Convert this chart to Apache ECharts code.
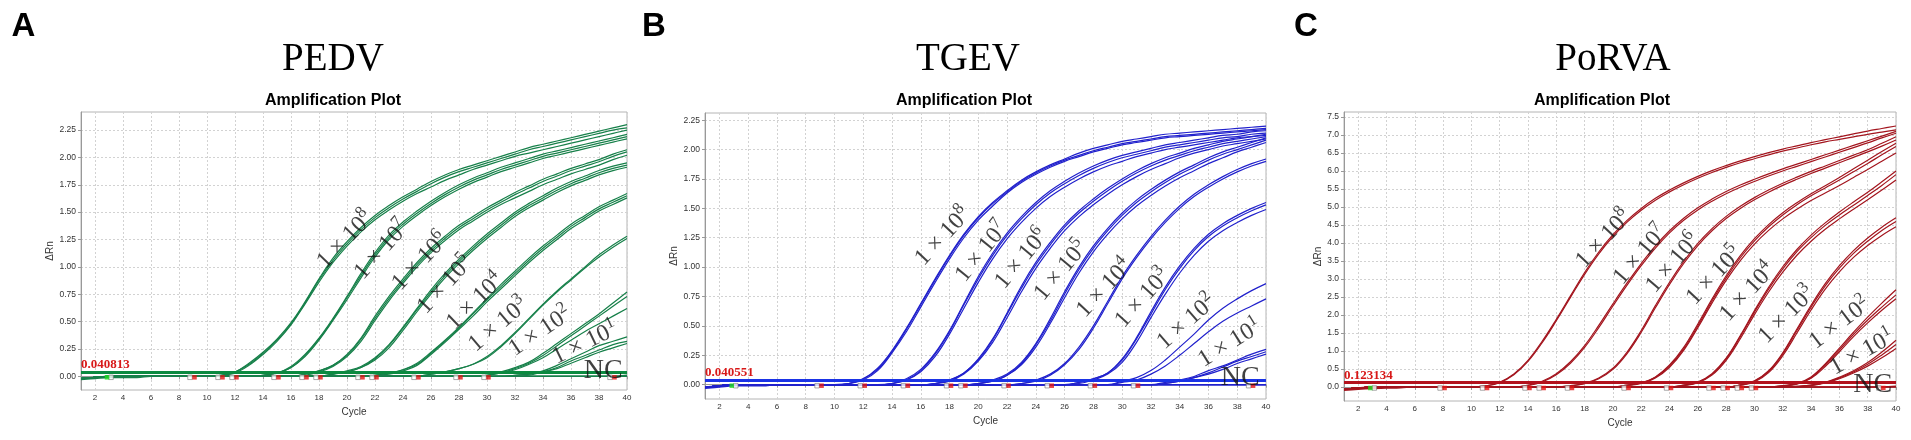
<!DOCTYPE html>
<html>
<head>
<meta charset="utf-8">
<script src="https://cdn.jsdelivr.net/npm/echarts@6/dist/echarts.min.js"></script>
<style>
  html, body { margin: 0; padding: 0; background: #fff; }
  #chart { width: 1911px; height: 440px; }
</style>
</head>
<body>
<div id="chart"></div>
<script>
// qPCR amplification plots, three targets
var CYCLES = [1,2,3,4,5,6,7,8,9,10,11,12,13,14,15,16,17,18,19,20,
              21,22,23,24,25,26,27,28,29,30,31,32,33,34,35,36,37,38,39,40];
var X_TICKS = [2,4,6,8,10,12,14,16,18,20,22,24,26,28,30,32,34,36,38,40];
var Y_TICKS_PEDV = [0,0.25,0.5,0.75,1,1.25,1.5,1.75,2,2.25];
var Y_TICKS_TGEV = [0,0.25,0.5,0.75,1,1.25,1.5,1.75,2,2.25];
var Y_TICKS_PORVA = [0,0.5,1,1.5,2,2.5,3,3.5,4,4.5,5,5.5,6,6.5,7,7.5];

// ---- PEDV (A) : dRn per cycle, one row = 10 cycles
var PEDV_1E8 = [
  [-0.02,-0.01,0,0,0,0,0,0,0,0, 0.01,0.04,0.12,0.22,0.34,0.49,0.68,0.89,1.08,1.23,
   1.36,1.47,1.56,1.64,1.71,1.78,1.84,1.89,1.93,1.97, 2.01,2.05,2.09,2.12,2.15,2.18,2.21,2.24,2.27,2.30],
  [-0.02,-0.01,0,0,0,0,0,0,0,0, 0.01,0.04,0.11,0.21,0.33,0.48,0.67,0.88,1.06,1.21,
   1.34,1.45,1.54,1.62,1.69,1.76,1.82,1.87,1.91,1.95, 1.99,2.03,2.07,2.10,2.13,2.16,2.19,2.22,2.25,2.27],
  [-0.02,-0.01,0,0,0,0,0,0,0,0, 0.01,0.03,0.10,0.20,0.32,0.47,0.66,0.86,1.04,1.19,
   1.32,1.43,1.52,1.60,1.67,1.73,1.79,1.84,1.89,1.93, 1.97,2.01,2.04,2.07,2.10,2.13,2.16,2.19,2.22,2.25]
];
var PEDV_1E7 = [
  [-0.02,-0.01,0,0,0,0,0,0,0,0, 0,0,0,0.01,0.03,0.09,0.20,0.35,0.53,0.73,
   0.94,1.13,1.29,1.41,1.51,1.60,1.68,1.75,1.81,1.86, 1.91,1.95,1.99,2.03,2.06,2.09,2.12,2.15,2.18,2.21],
  [-0.02,-0.01,0,0,0,0,0,0,0,0, 0,0,0,0.01,0.03,0.08,0.19,0.34,0.52,0.72,
   0.92,1.11,1.27,1.39,1.49,1.58,1.66,1.73,1.79,1.84, 1.89,1.93,1.97,2.01,2.04,2.07,2.10,2.13,2.16,2.19],
  [-0.02,-0.01,0,0,0,0,0,0,0,0, 0,0,0,0.01,0.03,0.08,0.18,0.33,0.51,0.70,
   0.90,1.09,1.25,1.37,1.47,1.56,1.64,1.71,1.77,1.82, 1.87,1.91,1.95,1.99,2.02,2.05,2.08,2.11,2.14,2.17]
];
var PEDV_1E6 = [
  [-0.02,-0.01,0,0,0,0,0,0,0,0, 0,0,0,0,0,0,0.02,0.05,0.10,0.20,
   0.35,0.55,0.73,0.89,1.04,1.17,1.28,1.38,1.46,1.54, 1.61,1.68,1.74,1.80,1.85,1.90,1.94,1.98,2.03,2.07],
  [-0.02,-0.01,0,0,0,0,0,0,0,0, 0,0,0,0,0,0,0.02,0.05,0.10,0.19,
   0.34,0.53,0.71,0.87,1.02,1.15,1.26,1.36,1.44,1.52, 1.59,1.66,1.72,1.78,1.83,1.88,1.92,1.96,2.01,2.05],
  [-0.02,-0.01,0,0,0,0,0,0,0,0, 0,0,0,0,0,0,0.01,0.04,0.09,0.18,
   0.32,0.51,0.69,0.85,1.00,1.13,1.24,1.34,1.42,1.50, 1.57,1.63,1.69,1.75,1.80,1.85,1.89,1.93,1.98,2.02]
];
var PEDV_1E5 = [
  [-0.02,-0.01,0,0,0,0,0,0,0,0, 0,0,0,0,0,0,0,0,0.02,0.05,
   0.09,0.17,0.29,0.45,0.62,0.79,0.94,1.07,1.19,1.30, 1.40,1.50,1.58,1.65,1.72,1.78,1.83,1.88,1.92,1.95],
  [-0.02,-0.01,0,0,0,0,0,0,0,0, 0,0,0,0,0,0,0,0,0.02,0.04,
   0.08,0.16,0.28,0.44,0.61,0.77,0.92,1.05,1.17,1.28, 1.38,1.48,1.56,1.63,1.70,1.76,1.81,1.86,1.90,1.93],
  [-0.02,-0.01,0,0,0,0,0,0,0,0, 0,0,0,0,0,0,0,0,0.02,0.04,
   0.08,0.15,0.26,0.42,0.59,0.75,0.90,1.03,1.15,1.26, 1.36,1.46,1.54,1.61,1.68,1.74,1.79,1.84,1.88,1.91]
];
var PEDV_1E4 = [
  [-0.02,-0.01,0,0,0,0,0,0,0,0, 0,0,0,0,0,0,0,0,0,0,
   0,0.01,0.03,0.06,0.12,0.22,0.33,0.45,0.58,0.71, 0.84,0.96,1.08,1.19,1.29,1.39,1.47,1.55,1.61,1.67],
  [-0.02,-0.01,0,0,0,0,0,0,0,0, 0,0,0,0,0,0,0,0,0,0,
   0,0.01,0.03,0.06,0.11,0.21,0.32,0.44,0.57,0.70, 0.82,0.94,1.06,1.17,1.27,1.37,1.45,1.53,1.59,1.65],
  [-0.02,-0.01,0,0,0,0,0,0,0,0, 0,0,0,0,0,0,0,0,0,0,
   0,0.01,0.02,0.05,0.10,0.20,0.31,0.43,0.55,0.68, 0.80,0.92,1.04,1.15,1.25,1.35,1.43,1.51,1.57,1.63]
];
var PEDV_1E3 = [
  [-0.02,-0.01,0,0,0,0,0,0,0,0, 0,0,0,0,0,0,0,0,0,0,
   0,0,0,0,0,0.02,0.04,0.07,0.11,0.18, 0.28,0.40,0.53,0.66,0.78,0.89,1.00,1.11,1.20,1.28],
  [-0.02,-0.01,0,0,0,0,0,0,0,0, 0,0,0,0,0,0,0,0,0,0,
   0,0,0,0,0,0.02,0.04,0.07,0.11,0.17, 0.27,0.39,0.52,0.65,0.77,0.88,0.99,1.09,1.18,1.26]
];
var PEDV_1E2 = [
  [-0.02,-0.01,0,0,0,0,0,0,0,0, 0,0,0,0,0,0,0,0,0,0,
   0,0,0,0,0,0,0,0,0,0.01, 0.04,0.08,0.13,0.21,0.30,0.39,0.48,0.57,0.67,0.77],
  [-0.02,-0.01,0,0,0,0,0,0,0,0, 0,0,0,0,0,0,0,0,0,0,
   0,0,0,0,0,0,0,0,0,0.01, 0.03,0.07,0.12,0.19,0.28,0.37,0.46,0.55,0.64,0.73],
  [-0.02,-0.01,0,0,0,0,0,0,0,0, 0,0,0,0,0,0,0,0,0,0,
   0,0,0,0,0,0,0,0,0,0.01, 0.03,0.06,0.11,0.17,0.25,0.33,0.41,0.48,0.55,0.62]
];
var PEDV_1E1 = [
  [-0.02,-0.01,0,0,0,0,0,0,0,0, 0,0,0,0,0,0,0,0,0,0,
   0,0,0,0,0,0,0,0,0,0, 0,0.01,0.02,0.05,0.10,0.16,0.22,0.28,0.32,0.36],
  [-0.02,-0.01,0,0,0,0,0,0,0,0, 0,0,0,0,0,0,0,0,0,0,
   0,0,0,0,0,0,0,0,0,0, 0,0.01,0.02,0.04,0.08,0.14,0.19,0.24,0.29,0.32],
  [-0.02,-0.01,0,0,0,0,0,0,0,0, 0,0,0,0,0,0,0,0,0,0,
   0,0,0,0,0,0,0,0,0,0, 0,0,0.01,0.04,0.07,0.12,0.17,0.22,0.26,0.30]
];
var PEDV_NC = [
  [-0.02,-0.01,0,0,0,0,0,0,0,0, 0,0,0,0,0,0,0,0,0,0,
   0,0,0,0,0,0,0,0,0,0, 0,0,0,0,0,0,0,0,0,0.01],
  [-0.03,-0.02,-0.01,-0.01,-0.01,0,0,0,0,0, 0,0,0,0,0,0,0,0,0,0,
   0,0,0,0,0,0,0,0,0,0, 0,0,0,0,0,0,0,0,0,0]
];
var PEDV_THRESHOLD = 0.040813;
var PEDV_RED_MARKS = [9,11,12,15,17,18,21,22,25,28,30,39];
// [cycle, dRn, exponent, angle]
var PEDV_LABELS = [[19.88,1.247,'8',46],[22.5,1.155,'7',48],[25.24,1.048,'6',46],[27.02,0.835,'5',47],
                   [29.16,0.683,'4',44],[30.83,0.469,'3',40],[33.81,0.408,'2',34],[37.02,0.302,'1',26]];
var PEDV_NC_LABEL = [38.3, 0.048];

// ---- TGEV (B)
var TGEV_1E8 = [
  [-0.02,-0.01,0,0,0,0,0,0,0,0, 0.01,0.05,0.14,0.29,0.48,0.69,0.90,1.10,1.28,1.43,
   1.55,1.65,1.74,1.81,1.87,1.92,1.97,2.01,2.04,2.07, 2.09,2.11,2.13,2.14,2.15,2.16,2.17,2.18,2.19,2.20],
  [-0.02,-0.01,0,0,0,0,0,0,0,0, 0.01,0.05,0.13,0.28,0.47,0.68,0.89,1.09,1.27,1.42,
   1.54,1.64,1.73,1.80,1.86,1.91,1.95,1.99,2.02,2.05, 2.07,2.09,2.11,2.12,2.13,2.14,2.15,2.16,2.17,2.18],
  [-0.02,-0.01,0,0,0,0,0,0,0,0, 0.01,0.04,0.12,0.27,0.45,0.66,0.87,1.07,1.25,1.40,
   1.52,1.63,1.72,1.79,1.85,1.90,1.94,1.98,2.01,2.04, 2.06,2.08,2.10,2.11,2.12,2.13,2.14,2.15,2.16,2.17]
];
var TGEV_1E7 = [
  [-0.02,-0.01,0,0,0,0,0,0,0,0, 0,0,0,0.01,0.05,0.13,0.27,0.46,0.69,0.92,
   1.12,1.29,1.43,1.55,1.65,1.73,1.80,1.86,1.91,1.95, 1.98,2.01,2.04,2.06,2.08,2.10,2.12,2.13,2.15,2.16],
  [-0.02,-0.01,0,0,0,0,0,0,0,0, 0,0,0,0.01,0.04,0.12,0.26,0.45,0.68,0.90,
   1.10,1.27,1.41,1.53,1.63,1.71,1.78,1.84,1.89,1.93, 1.96,1.99,2.02,2.04,2.06,2.08,2.10,2.11,2.13,2.14],
  [-0.02,-0.01,0,0,0,0,0,0,0,0, 0,0,0,0.01,0.04,0.11,0.24,0.43,0.65,0.87,
   1.07,1.24,1.38,1.50,1.60,1.68,1.75,1.81,1.86,1.90, 1.94,1.97,2.00,2.02,2.04,2.06,2.08,2.10,2.11,2.12]
];
var TGEV_1E6 = [
  [-0.02,-0.01,0,0,0,0,0,0,0,0, 0,0,0,0,0,0,0.01,0.04,0.10,0.22,
   0.39,0.61,0.84,1.04,1.21,1.36,1.48,1.58,1.67,1.75, 1.82,1.88,1.93,1.97,2.01,2.04,2.07,2.09,2.11,2.13],
  [-0.02,-0.01,0,0,0,0,0,0,0,0, 0,0,0,0,0,0,0.01,0.04,0.10,0.21,
   0.38,0.60,0.82,1.02,1.19,1.34,1.46,1.56,1.65,1.73, 1.80,1.86,1.91,1.95,1.99,2.02,2.05,2.07,2.09,2.11],
  [-0.02,-0.01,0,0,0,0,0,0,0,0, 0,0,0,0,0,0,0.01,0.03,0.09,0.20,
   0.36,0.57,0.79,0.99,1.16,1.31,1.43,1.53,1.62,1.70, 1.77,1.83,1.88,1.93,1.97,2.00,2.03,2.05,2.07,2.09]
];
var TGEV_1E5 = [
  [-0.02,-0.01,0,0,0,0,0,0,0,0, 0,0,0,0,0,0,0,0,0,0.01,
   0.04,0.09,0.19,0.35,0.56,0.79,1.00,1.18,1.33,1.46, 1.57,1.66,1.74,1.81,1.87,1.93,1.98,2.02,2.06,2.10],
  [-0.02,-0.01,0,0,0,0,0,0,0,0, 0,0,0,0,0,0,0,0,0,0.01,
   0.03,0.08,0.18,0.34,0.54,0.77,0.98,1.16,1.31,1.44, 1.55,1.64,1.72,1.79,1.85,1.91,1.96,2.00,2.04,2.08],
  [-0.02,-0.01,0,0,0,0,0,0,0,0, 0,0,0,0,0,0,0,0,0,0.01,
   0.03,0.08,0.17,0.32,0.52,0.74,0.95,1.13,1.28,1.41, 1.52,1.61,1.69,1.76,1.82,1.88,1.93,1.98,2.02,2.06]
];
var TGEV_1E4 = [
  [-0.02,-0.01,0,0,0,0,0,0,0,0, 0,0,0,0,0,0,0,0,0,0,
   0,0,0.01,0.04,0.09,0.18,0.32,0.50,0.71,0.92, 1.10,1.26,1.40,1.52,1.62,1.70,1.77,1.83,1.88,1.92],
  [-0.02,-0.01,0,0,0,0,0,0,0,0, 0,0,0,0,0,0,0,0,0,0,
   0,0,0.01,0.03,0.08,0.17,0.30,0.48,0.69,0.90, 1.08,1.24,1.38,1.50,1.60,1.68,1.75,1.81,1.86,1.90]
];
var TGEV_1E3 = [
  [-0.02,-0.01,0,0,0,0,0,0,0,0, 0,0,0,0,0,0,0,0,0,0,
   0,0,0,0,0,0,0.02,0.05,0.10,0.22, 0.40,0.62,0.83,1.01,1.16,1.28,1.37,1.44,1.50,1.55],
  [-0.02,-0.01,0,0,0,0,0,0,0,0, 0,0,0,0,0,0,0,0,0,0,
   0,0,0,0,0,0,0.02,0.05,0.10,0.21, 0.39,0.60,0.81,0.99,1.14,1.26,1.35,1.42,1.48,1.53],
  [-0.02,-0.01,0,0,0,0,0,0,0,0, 0,0,0,0,0,0,0,0,0,0,
   0,0,0,0,0,0,0.01,0.04,0.09,0.19, 0.36,0.57,0.77,0.95,1.10,1.22,1.31,1.38,1.44,1.49]
];
var TGEV_1E2 = [
  [-0.02,-0.01,0,0,0,0,0,0,0,0, 0,0,0,0,0,0,0,0,0,0,
   0,0,0,0,0,0,0,0,0,0.03, 0.06,0.12,0.21,0.32,0.43,0.55,0.65,0.73,0.80,0.86],
  [-0.02,-0.01,0,0,0,0,0,0,0,0, 0,0,0,0,0,0,0,0,0,0,
   0,0,0,0,0,0,0,0,0,0.02, 0.04,0.09,0.16,0.25,0.35,0.45,0.54,0.61,0.67,0.73]
];
var TGEV_1E1 = [
  [-0.02,-0.01,0,0,0,0,0,0,0,0, 0,0,0,0,0,0,0,0,0,0,
   0,0,0,0,0,0,0,0,0,0, 0,0,0.02,0.04,0.07,0.12,0.16,0.21,0.26,0.30],
  [-0.02,-0.01,0,0,0,0,0,0,0,0, 0,0,0,0,0,0,0,0,0,0,
   0,0,0,0,0,0,0,0,0,0, 0,0,0.01,0.03,0.06,0.10,0.15,0.20,0.24,0.28],
  [-0.02,-0.01,0,0,0,0,0,0,0,0, 0,0,0,0,0,0,0,0,0,0,
   0,0,0,0,0,0,0,0,0,0, 0,0,0.01,0.03,0.06,0.09,0.13,0.18,0.22,0.26]
];
var TGEV_NC = [
  [-0.02,-0.01,0,0,0,0,0,0,0,0, 0,0,0,0,0,0,0,0,0,0,
   0,0,0,0,0,0,0,0,0,0, 0,0,0,0,0,0,0,0,0,0],
  [-0.03,-0.02,-0.01,-0.01,-0.01,0,0,0,0,0, 0,0,0,0,0,0,0,0,0,0,
   0,0,0,0,0,0,0,0,0,0, 0,0,0,0,0,0,0,0,0,0]
];
var TGEV_THRESHOLD = 0.040551;
var TGEV_RED_MARKS = [9,12,15,18,19,22,25,28,31,39];
var TGEV_LABELS = [[17.55,1.26,'8',47],[20.26,1.13,'7',51],[23.03,1.07,'6',50],[25.77,0.97,'5',50],
                   [28.78,0.82,'4',47],[31.44,0.735,'3',48],[34.49,0.531,'2',41],[37.5,0.352,'1',32]];
var TGEV_NC_LABEL = [38.2, 0.057];

// ---- PoRVA (C)
var PORVA_1E8 = [
  [-0.06,-0.03,0,0,0,0,0,0,0,0, 0.03,0.13,0.36,0.74,1.27,1.88,2.53,3.18,3.75,4.23,
   4.63,4.96,5.24,5.47,5.67,5.85,6.01,6.15,6.28,6.40, 6.51,6.61,6.70,6.79,6.87,6.95,7.03,7.11,7.18,7.25],
  [-0.06,-0.03,0,0,0,0,0,0,0,0, 0.03,0.12,0.34,0.71,1.23,1.84,2.49,3.13,3.70,4.18,
   4.58,4.91,5.19,5.42,5.62,5.80,5.96,6.10,6.23,6.34, 6.45,6.55,6.64,6.73,6.81,6.88,6.95,7.02,7.08,7.14]
];
var PORVA_1E7 = [
  [-0.06,-0.03,0,0,0,0,0,0,0,0, 0,0,0,0.05,0.16,0.37,0.70,1.15,1.71,2.31,
   2.89,3.43,3.92,4.34,4.69,4.98,5.22,5.43,5.61,5.77, 5.92,6.06,6.19,6.32,6.45,6.58,6.71,6.84,6.97,7.10],
  [-0.06,-0.03,0,0,0,0,0,0,0,0, 0,0,0,0.04,0.14,0.34,0.66,1.10,1.65,2.25,
   2.83,3.37,3.86,4.28,4.63,4.92,5.16,5.37,5.55,5.71, 5.86,6.00,6.13,6.26,6.39,6.52,6.65,6.78,6.92,7.05]
];
var PORVA_1E6 = [
  [-0.06,-0.03,0,0,0,0,0,0,0,0, 0,0,0,0,0,0,0.04,0.10,0.25,0.52,
   0.97,1.57,2.26,2.91,3.49,3.99,4.40,4.74,5.02,5.26, 5.47,5.66,5.83,5.99,6.14,6.29,6.44,6.59,6.77,6.95],
  [-0.06,-0.03,0,0,0,0,0,0,0,0, 0,0,0,0,0,0,0.03,0.09,0.23,0.49,
   0.93,1.52,2.20,2.85,3.43,3.93,4.34,4.68,4.96,5.20, 5.41,5.60,5.77,5.93,6.08,6.23,6.38,6.53,6.69,6.86]
];
var PORVA_1E5 = [
  [-0.06,-0.03,0,0,0,0,0,0,0,0, 0,0,0,0,0,0,0,0,0,0,
   0.05,0.12,0.28,0.61,1.10,1.75,2.44,3.09,3.65,4.12, 4.51,4.84,5.12,5.37,5.59,5.82,6.06,6.30,6.54,6.77],
  [-0.06,-0.03,0,0,0,0,0,0,0,0, 0,0,0,0,0,0,0,0,0,0,
   0.05,0.11,0.27,0.58,1.06,1.70,2.39,3.03,3.59,4.06, 4.45,4.78,5.06,5.31,5.53,5.75,5.98,6.21,6.45,6.68],
  [-0.06,-0.03,0,0,0,0,0,0,0,0, 0,0,0,0,0,0,0,0,0,0,
   0.04,0.10,0.25,0.55,1.02,1.65,2.33,2.96,3.51,3.97, 4.35,4.67,4.94,5.18,5.39,5.60,5.82,6.04,6.27,6.50]
];
var PORVA_1E4 = [
  [-0.06,-0.03,0,0,0,0,0,0,0,0, 0,0,0,0,0,0,0,0,0,0,
   0,0,0,0,0.05,0.14,0.37,0.80,1.43,2.12, 2.77,3.34,3.82,4.22,4.56,4.86,5.14,5.41,5.70,6.00],
  [-0.06,-0.03,0,0,0,0,0,0,0,0, 0,0,0,0,0,0,0,0,0,0,
   0,0,0,0,0.05,0.13,0.35,0.78,1.40,2.08, 2.72,3.28,3.76,4.15,4.49,4.78,5.05,5.32,5.60,5.90],
  [-0.06,-0.03,0,0,0,0,0,0,0,0, 0,0,0,0,0,0,0,0,0,0,
   0,0,0,0,0.04,0.12,0.33,0.74,1.34,2.01, 2.64,3.19,3.66,4.05,4.38,4.67,4.94,5.20,5.47,5.75]
];
var PORVA_1E3 = [
  [-0.06,-0.03,0,0,0,0,0,0,0,0, 0,0,0,0,0,0,0,0,0,0,
   0,0,0,0,0,0,0,0,0.06,0.17, 0.45,0.95,1.61,2.27,2.87,3.37,3.79,4.14,4.44,4.70],
  [-0.06,-0.03,0,0,0,0,0,0,0,0, 0,0,0,0,0,0,0,0,0,0,
   0,0,0,0,0,0,0,0,0.05,0.16, 0.43,0.92,1.57,2.22,2.81,3.30,3.71,4.05,4.35,4.60],
  [-0.06,-0.03,0,0,0,0,0,0,0,0, 0,0,0,0,0,0,0,0,0,0,
   0,0,0,0,0,0,0,0,0.05,0.14, 0.40,0.87,1.50,2.14,2.72,3.20,3.60,3.93,4.21,4.45]
];
var PORVA_1E2 = [
  [-0.06,-0.03,0,0,0,0,0,0,0,0, 0,0,0,0,0,0,0,0,0,0,
   0,0,0,0,0,0,0,0,0,0, 0,0.04,0.10,0.28,0.64,1.08,1.52,1.94,2.33,2.70],
  [-0.06,-0.03,0,0,0,0,0,0,0,0, 0,0,0,0,0,0,0,0,0,0,
   0,0,0,0,0,0,0,0,0,0, 0,0.03,0.09,0.26,0.61,1.03,1.46,1.86,2.22,2.56],
  [-0.06,-0.03,0,0,0,0,0,0,0,0, 0,0,0,0,0,0,0,0,0,0,
   0,0,0,0,0,0,0,0,0,0, 0,0.03,0.08,0.24,0.57,0.98,1.40,1.78,2.13,2.45]
];
var PORVA_1E1 = [
  [-0.06,-0.03,0,0,0,0,0,0,0,0, 0,0,0,0,0,0,0,0,0,0,
   0,0,0,0,0,0,0,0,0,0, 0,0,0.02,0.05,0.13,0.27,0.45,0.68,0.97,1.30],
  [-0.06,-0.03,0,0,0,0,0,0,0,0, 0,0,0,0,0,0,0,0,0,0,
   0,0,0,0,0,0,0,0,0,0, 0,0,0.02,0.05,0.12,0.25,0.42,0.63,0.89,1.18],
  [-0.06,-0.03,0,0,0,0,0,0,0,0, 0,0,0,0,0,0,0,0,0,0,
   0,0,0,0,0,0,0,0,0,0, 0,0,0.01,0.04,0.11,0.23,0.39,0.58,0.81,1.07]
];
var PORVA_NC = [
  [-0.06,-0.03,0,0,0,0,0,0,0,0, 0,0,0,0,0,0,0,0,0,0,
   0,0,0,0,0,0,0,0,0,0, 0,0,0,0,0,0,0,0,0,0.02],
  [-0.09,-0.06,-0.04,-0.03,-0.02,0,0,0,0,0, 0,0,0,0,0,0,0,0,0,0,
   0,0,0,0,0,0,0,0,0,0, 0,0,0,0,0,0,0,0,0,0]
];
var PORVA_THRESHOLD = 0.123134;
var PORVA_RED_MARKS = [8,11,14,15,17,21,24,27,28,29,30,39];
var PORVA_LABELS = [[19.36,4.11,'8',47],[21.96,3.67,'7',49],[24.26,3.44,'6',49],[27.16,3.09,'5',47],
                    [29.53,2.63,'4',47],[32.3,2.0,'3',45],[36.03,1.77,'2',37],[37.62,0.96,'1',29]];
var PORVA_NC_LABEL = [38.35, 0.055];

var GREEN_MARK = 3;

var panels = [
  {
    letter: 'A', name: 'PEDV', letterX: 11.5, titleX: 333, plotTitleX: 333,
    grid: {left: 81, top: 112, width: 546, height: 278},
    yMin: -0.125, yMax: 2.415, yTicks: Y_TICKS_PEDV, digits: 2, nameGap: 25,
    color: '#17804a', thrColor: '#0b8a40',
    groups: [PEDV_1E8, PEDV_1E7, PEDV_1E6, PEDV_1E5, PEDV_1E4, PEDV_1E3, PEDV_1E2, PEDV_1E1],
    nc: PEDV_NC, threshold: PEDV_THRESHOLD, red: PEDV_RED_MARKS,
    labels: PEDV_LABELS, ncLabel: PEDV_NC_LABEL
  },
  {
    letter: 'B', name: 'TGEV', letterX: 642, titleX: 968, plotTitleX: 964,
    grid: {left: 705, top: 113, width: 561, height: 286},
    yMin: -0.1217, yMax: 2.311, yTicks: Y_TICKS_TGEV, digits: 2, nameGap: 25,
    color: '#2121cc', thrColor: '#1a33e6',
    groups: [TGEV_1E8, TGEV_1E7, TGEV_1E6, TGEV_1E5, TGEV_1E4, TGEV_1E3, TGEV_1E2, TGEV_1E1],
    nc: TGEV_NC, threshold: TGEV_THRESHOLD, red: TGEV_RED_MARKS,
    labels: TGEV_LABELS, ncLabel: TGEV_NC_LABEL
  },
  {
    letter: 'C', name: 'PoRVA', letterX: 1294, titleX: 1613, plotTitleX: 1602,
    grid: {left: 1344, top: 112, width: 552, height: 289},
    yMin: -0.389, yMax: 7.639, yTicks: Y_TICKS_PORVA, digits: 1, nameGap: 21,
    color: '#a3151e', thrColor: '#b3121d',
    groups: [PORVA_1E8, PORVA_1E7, PORVA_1E6, PORVA_1E5, PORVA_1E4, PORVA_1E3, PORVA_1E2, PORVA_1E1],
    nc: PORVA_NC, threshold: PORVA_THRESHOLD, red: PORVA_RED_MARKS,
    labels: PORVA_LABELS, ncLabel: PORVA_NC_LABEL
  }
];

var SANS = '"Liberation Sans", Arial, sans-serif';
var SERIF = '"Liberation Serif", "Times New Roman", serif';

var grids = [], xAxes = [], yAxes = [], series = [], graphics = [];

panels.forEach(function (p, idx) {
  grids.push({
    left: p.grid.left, top: p.grid.top, width: p.grid.width, height: p.grid.height,
    show: true, borderColor: '#b4b4b4', borderWidth: 1, backgroundColor: '#fff',
    containLabel: false, outerBoundsMode: 'none'
  });
  xAxes.push({
    type: 'value', gridIndex: idx, min: 1, max: 40,
    name: 'Cycle', nameLocation: 'middle', nameGap: 17,
    nameTextStyle: {fontFamily: SANS, fontSize: 10, color: '#333'},
    axisLine: {show: true, lineStyle: {color: '#999', width: 1}},
    axisTick: {show: true, length: 3, customValues: X_TICKS, lineStyle: {color: '#999'}},
    axisLabel: {customValues: X_TICKS, margin: 4, fontFamily: SANS, fontSize: 8, color: '#333'},
    splitLine: {show: true, lineStyle: {color: '#d2d2d2', type: [2, 2], width: 1}}
  });
  yAxes.push({
    type: 'value', gridIndex: idx, min: p.yMin, max: p.yMax,
    name: 'ΔRn', nameLocation: 'middle', nameGap: p.nameGap,
    nameTextStyle: {fontFamily: SANS, fontSize: 10, color: '#333'},
    axisLine: {show: true, lineStyle: {color: '#999', width: 1}},
    axisTick: {show: true, length: 3, customValues: p.yTicks, lineStyle: {color: '#999'}},
    axisLabel: {
      customValues: p.yTicks, margin: 5, fontFamily: SANS, fontSize: 8.5, color: '#333',
      formatter: (function (d) { return function (v) { return v.toFixed(d); }; })(p.digits)
    },
    splitLine: {show: true, lineStyle: {color: '#d2d2d2', type: [2, 2], width: 1}}
  });

  function lineSeries(values, width) {
    return {
      type: 'line', xAxisIndex: idx, yAxisIndex: idx,
      data: values.map(function (v, i) { return [CYCLES[i], v]; }),
      showSymbol: false, symbol: 'none', smooth: 0.4,
      lineStyle: {color: p.color, width: width}, silent: true, z: 3
    };
  }

  p.groups.forEach(function (g) {
    g.forEach(function (rep) { series.push(lineSeries(rep, 1.2)); });
  });
  p.nc.forEach(function (rep, k) {
    var s = lineSeries(rep, 1.5);
    if (k === 0) {
      s.markLine = {
        silent: true, symbol: 'none', animation: false,
        lineStyle: {color: p.thrColor, width: 3, type: 'solid'},
        label: {
          show: true, position: 'insideStartTop', distance: [0, 1],
          formatter: String(p.threshold),
          fontFamily: SERIF, fontWeight: 'bold', fontSize: 13, color: '#d81818'
        },
        data: [{yAxis: p.threshold}]
      };
    }
    series.push(s);
  });

  // baseline markers
  series.push({
    type: 'scatter', xAxisIndex: idx, yAxisIndex: idx, symbol: 'rect', symbolSize: 4.5,
    symbolOffset: [-3, 1], silent: true, z: 6,
    itemStyle: {color: '#fff', borderColor: '#777', borderWidth: 0.8},
    data: p.red.map(function (c) { return [c, 0]; })
  });
  series.push({
    type: 'scatter', xAxisIndex: idx, yAxisIndex: idx, symbol: 'rect', symbolSize: 4.5,
    symbolOffset: [1.5, 1], silent: true, z: 7,
    itemStyle: {color: '#e41414'},
    data: p.red.map(function (c) { return [c, 0]; })
  });
  series.push({
    type: 'scatter', xAxisIndex: idx, yAxisIndex: idx, symbol: 'rect', symbolSize: 4.5,
    symbolOffset: [2, 1], silent: true, z: 6,
    itemStyle: {color: '#fff', borderColor: '#777', borderWidth: 0.8},
    data: [[GREEN_MARK, 0]]
  });
  series.push({
    type: 'scatter', xAxisIndex: idx, yAxisIndex: idx, symbol: 'rect', symbolSize: 4.5,
    symbolOffset: [-2, 1], silent: true, z: 7,
    itemStyle: {color: '#22dd22'},
    data: [[GREEN_MARK, 0]]
  });

  // dilution labels
  var labelData = p.labels.map(function (l) {
    return {value: [l[0], l[1]], label: {formatter: '{b|1 × 10}{e|' + l[2] + '}', rotate: l[3]}};
  });
  labelData.push({value: p.ncLabel, label: {formatter: 'NC', rotate: 0, fontSize: 28}});
  series.push({
    type: 'scatter', xAxisIndex: idx, yAxisIndex: idx, symbolSize: 1, silent: true, z: 10,
    itemStyle: {color: 'rgba(0,0,0,0)'},
    label: {
      show: true, position: 'inside', fontFamily: SERIF, fontSize: 24, color: '#111',
      rich: {
        b: {fontFamily: SERIF, fontSize: 24, color: '#111'},
        e: {fontFamily: SERIF, fontSize: 17, color: '#111', padding: [0, 0, 15, 0]}
      }
    },
    data: labelData
  });

  graphics.push({
    type: 'text', x: p.letterX, y: 27, silent: true,
    style: {text: p.letter, fontFamily: SANS, fontWeight: 'bold', fontSize: 33, fill: '#000',
            align: 'left', verticalAlign: 'middle'}
  });
  graphics.push({
    type: 'text', x: p.titleX, y: 60, silent: true,
    style: {text: p.name, fontFamily: SERIF, fontSize: 39, fill: '#000',
            align: 'center', verticalAlign: 'middle'}
  });
  graphics.push({
    type: 'text', x: p.plotTitleX, y: 101, silent: true,
    style: {text: 'Amplification Plot', fontFamily: SANS, fontWeight: 'bold', fontSize: 16, fill: '#000',
            align: 'center', verticalAlign: 'middle'}
  });
});

var chart = echarts.init(document.getElementById('chart'), null, {renderer: 'canvas'});
chart.setOption({
  backgroundColor: '#fff',
  animation: false,
  grid: grids,
  xAxis: xAxes,
  yAxis: yAxes,
  series: series,
  graphic: graphics
});
</script>
</body>
</html>
